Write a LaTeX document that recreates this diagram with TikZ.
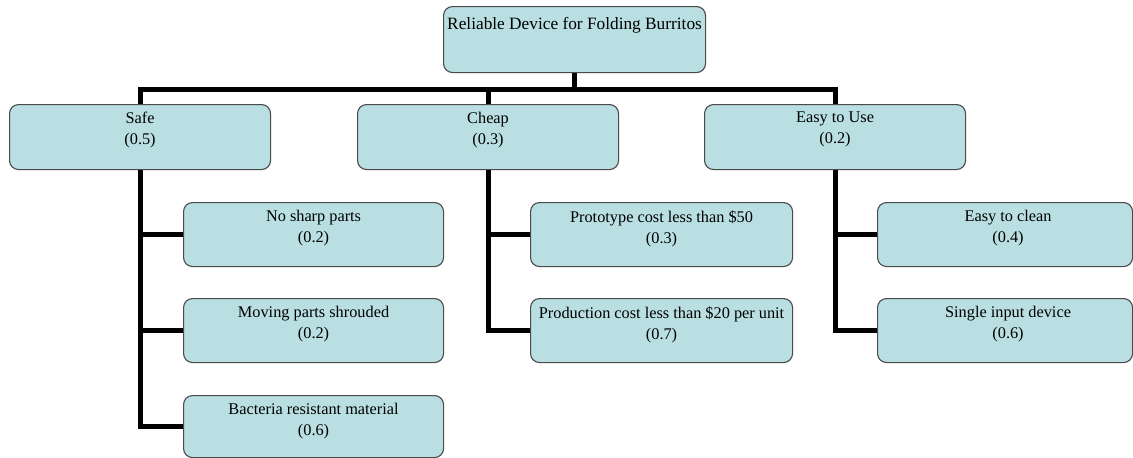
\documentclass[tikz,border=0pt]{standalone}
\usepackage{fontspec}
\setmainfont{Liberation Serif}
\usetikzlibrary{backgrounds}
\definecolor{boxfill}{HTML}{B9DFE2}
\definecolor{boxline}{HTML}{4A4A4A}
\tikzset{
  box/.style={draw=boxline, line width=1.1pt, fill=boxfill, rounded corners=9pt, inner sep=0pt, anchor=north west},
  txt/.style={inner sep=0pt, anchor=north, align=center, font=\fontsize{16.3}{21}\selectfont},
  conn/.style={line width=5pt, black, line join=miter}
}
\begin{document}
\begin{tikzpicture}[x=1pt,y=-1pt]
\useasboundingbox (0,0) rectangle (1133,458);
% boxes
\node[box, minimum width=262pt, minimum height=66pt] (root) at (443,6) {};
\node[box, minimum width=261pt, minimum height=65pt] (safe) at (9,104) {};
\node[box, minimum width=261pt, minimum height=65pt] (cheap) at (357,104) {};
\node[box, minimum width=261pt, minimum height=65pt] (easy) at (704,104) {};
\node[box, minimum width=260pt, minimum height=64pt] (nosharp) at (183,202) {};
\node[box, minimum width=260pt, minimum height=64pt] (moving) at (183,298) {};
\node[box, minimum width=260pt, minimum height=62pt] (bact) at (183,395) {};
\node[box, minimum width=262pt, minimum height=64pt] (proto) at (530,202) {};
\node[box, minimum width=262pt, minimum height=64pt] (prod) at (530,298) {};
\node[box, minimum width=255pt, minimum height=64pt] (clean) at (877,202) {};
\node[box, minimum width=255pt, minimum height=64pt] (single) at (877,298) {};
% connectors
\begin{scope}[on background layer]
\draw[conn] (root.south) -- ++(0,16) -| (safe.north);
\draw[conn] (root.south) -- ++(0,16) -| (cheap.north);
\draw[conn] (root.south) -- ++(0,16) -| (easy.north);
\draw[conn] (safe.south) |- (nosharp.west);
\draw[conn] (safe.south) |- (moving.west);
\draw[conn] (safe.south) |- (bact.west);
\draw[conn] (cheap.south) |- (proto.west);
\draw[conn] (cheap.south) |- (prod.west);
\draw[conn] (easy.south) |- (clean.west);
\draw[conn] (easy.south) |- (single.west);
\end{scope}
% texts
\node[txt, font=\fontsize{17.3}{21}\selectfont] (rootT) at ([yshift=-11pt]root.north) {Reliable Device for Folding Burritos};
\node[txt] (safeT) at ([yshift=-8pt]safe.north) {Safe\\(0.5)};
\node[txt] (cheapT) at ([yshift=-8pt]cheap.north) {Cheap\\(0.3)};
\node[txt] (easyT) at ([yshift=-8pt]easy.north) {Easy to Use\\(0.2)};
\node[txt] (nosharpT) at ([yshift=-8pt]nosharp.north) {No sharp parts\\(0.2)};
\node[txt] (movingT) at ([yshift=-8pt]moving.north) {Moving parts shrouded\\(0.2)};
\node[txt] (bactT) at ([yshift=-8pt]bact.north) {Bacteria resistant material\\(0.6)};
\node[txt] (protoT) at ([yshift=-8pt]proto.north) {Prototype cost less than \$50\\(0.3)};
\node[txt] (prodT) at ([yshift=-8pt]prod.north) {Production cost less than \$20 per unit\\(0.7)};
\node[txt] (cleanT) at ([yshift=-8pt,xshift=3pt]clean.north) {Easy to clean\\(0.4)};
\node[txt] (singleT) at ([yshift=-8pt,xshift=3pt]single.north) {Single input device\\(0.6)};
\end{tikzpicture}
\end{document}
